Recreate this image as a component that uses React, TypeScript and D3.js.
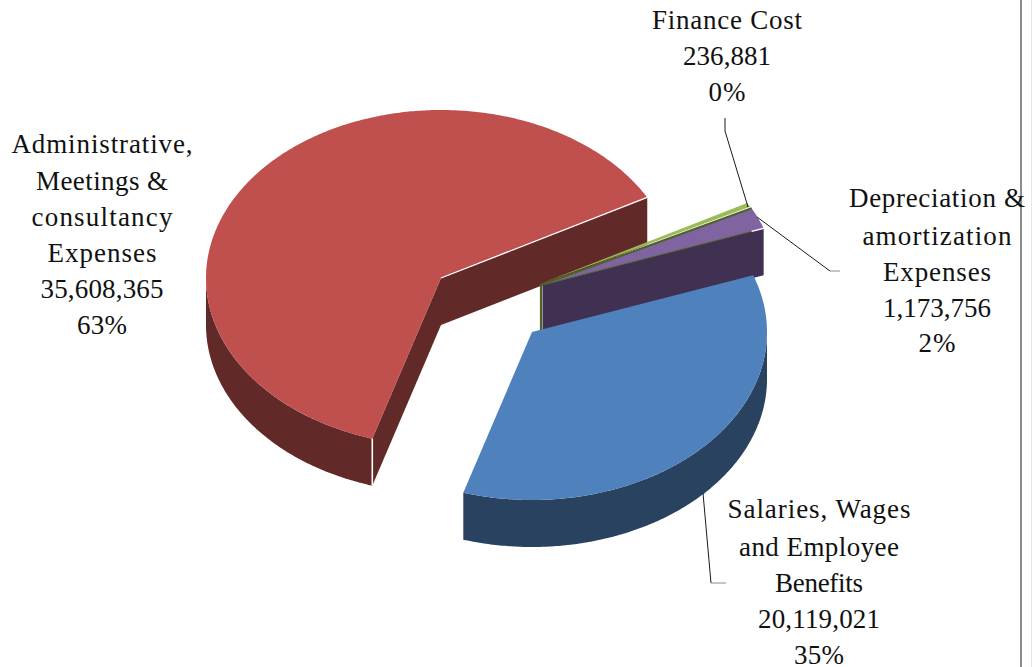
import React from "react";
import * as d3 from "d3";

const categories = ["Administrative, Meetings & consultancy Expenses", "Finance Cost", "Depreciation & amortization Expenses", "Salaries, Wages and Employee Benefits"];
const values = [35608365, 236881, 1173756, 20119021];
const topColors = ["#C0504D", "#9BBB59", "#8064A2", "#4F81BD"];
const sideColors = ["#612928", "#4F6228", "#403152", "#284260"];
const apexX = [441, 541, 542.5, 532];
const apexY = [278, 283.5, 285, 332];

const labelLines = [
  ["Administrative,", "Meetings &", "consultancy", "Expenses", "35,608,365", "63%"],
  ["Finance Cost", "236,881", "0%"],
  ["Depreciation &", "amortization", "Expenses", "1,173,756", "2%"],
  ["Salaries, Wages", "and Employee", "Benefits", "20,119,021", "35%"],
];
const labelX = [102, 727, 937, 819];
const labelBaselines = [
  [153, 190, 226, 262, 298, 334],
  [29, 65, 101],
  [207, 245, 281, 317, 352],
  [518, 556, 592, 628, 664],
];
const labelWidths = [
  [181, 132, 141, 109, 123, 50],
  [150, 88, 37],
  [176, 149, 108, 108, 37],
  [183, 160, 88, 122, 50],
];
const leaders: [number, number][][] = [
  [[725, 118], [725, 131], [748, 207]],
  [[757, 217], [830, 271]],
  [[703, 493], [711, 583]],
];
const leaderTails: [number, number][][] = [
  [[830, 271], [840, 271]],
  [[711, 583], [726, 583]],
];

const RX = 235;
const RY = 168;
const DEPTH = 47;
const START = (197 * Math.PI) / 180;
const FONT = "'Liberation Serif', serif";

const slices = d3.pie<number>().sort(null).startAngle(START).endAngle(START + 2 * Math.PI)(values);
const sx = d3.scaleLinear().domain([-1, 1]).range([-RX, RX]);
const sy = d3.scaleLinear().domain([-1, 1]).range([RY, -RY]);
const pt = (i: number, a: number, dy = 0): [number, number] => [apexX[i] + sx(Math.sin(a)), apexY[i] + sy(Math.cos(a)) + dy];
const rim = (i: number, a0: number, a1: number, dy = 0) => {
  const n = Math.max(2, Math.ceil(Math.abs(a1 - a0) / 0.01));
  return d3.range(n + 1).map((k) => pt(i, a0 + ((a1 - a0) * k) / n, dy));
};
const line = d3.line();
const closed = (p: [number, number][]) => line(p)! + "Z";
const topPath = (i: number) => closed([[apexX[i], apexY[i]], ...rim(i, slices[i].startAngle, slices[i].endAngle)]);
const outerWall = (i: number, a0: number, a1: number) => closed([...rim(i, a0, a1), ...rim(i, a1, a0, DEPTH)]);
const cutWall = (i: number, a: number) => {
  const [x, y] = pt(i, a);
  return closed([[apexX[i], apexY[i]], [x, y], [x, y + DEPTH], [apexX[i], apexY[i] + DEPTH]]);
};
const RAD = Math.PI / 180;

export default function App() {
  const red = slices[0], purple = slices[2], blue = slices[3];
  const redRimStart = pt(0, red.startAngle);
  const redRimEnd = pt(0, red.endAngle);
  const purpleEnd = pt(2, purple.endAngle);
  const purpleStart = pt(2, purple.startAngle);
  const elbow: [number, number] = [apexX[1], apexY[2]];
  return (
    <svg width={1032} height={667} style={{ position: "absolute", left: 0, top: 0, background: "#fff" }}>
      {/* red */}
      <path d={outerWall(0, red.startAngle, 270 * RAD)} fill={sideColors[0]} />
      <path d={cutWall(0, red.startAngle)} fill={sideColors[0]} />
      <path d={cutWall(0, red.endAngle)} fill={sideColors[0]} />
      <path d={topPath(0)} fill={topColors[0]} />
      <path d={line([[apexX[0], apexY[0]], redRimEnd])!} stroke="#fff" strokeWidth={1.3} fill="none" />
      <path d={line([redRimStart, [redRimStart[0], redRimStart[1] + DEPTH]])!} stroke="#fff" strokeWidth={1.6} fill="none" />
      {/* purple wall */}
      <path d={cutWall(2, purple.endAngle)} fill={sideColors[2]} />
      {/* green */}
      <path d={topPath(1)} fill={topColors[1]} />
      {/* purple */}
      <path d={topPath(2)} fill={topColors[2]} />
      <path d={line([[elbow[0], elbow[1] + DEPTH], elbow, purpleStart])!} stroke={sideColors[1]} strokeWidth={2.2} fill="none" />
      <path d={line([[apexX[2], apexY[2]], [purpleEnd[0] - 12, purpleEnd[1] + 3.2]])!} stroke={sideColors[1]} strokeWidth={1} fill="none" />
      <path d={line([[purpleEnd[0] - 12, purpleEnd[1] + 3.2], [purpleEnd[0] + 1, purpleEnd[1] - 0.2]])!} stroke="#fff" strokeWidth={1.4} fill="none" />
      {/* blue */}
      <path d={outerWall(3, 450 * RAD, blue.endAngle)} fill={sideColors[3]} />
      <path d={topPath(3)} fill={topColors[3]} />
      {/* leaders */}
      {leaders.map((l, i) => <path key={i} d={line(l)!} fill="none" stroke="#1a1a1a" strokeWidth={1} />)}
      {leaderTails.map((l, i) => <path key={i} d={line(l)!} fill="none" stroke="#8a8a8a" strokeWidth={1} />)}
      {/* page edge */}
      <line x1={1021} x2={1021} y1={0} y2={667} stroke="#8c8c8c" strokeWidth={2} />
      <line x1={1031.5} x2={1031.5} y1={0} y2={667} stroke="#e8e8e8" strokeWidth={1} />
      {/* labels */}
      {labelLines.map((lines, i) =>
        lines.map((t, j) => (
          <text key={`${i}-${j}`} x={labelX[i]} y={labelBaselines[i][j]} textAnchor="middle" fontFamily={FONT} fontSize={27} fill="#111" textLength={labelWidths[i][j]} lengthAdjust="spacing">{t}</text>
        ))
      )}
    </svg>
  );
}
